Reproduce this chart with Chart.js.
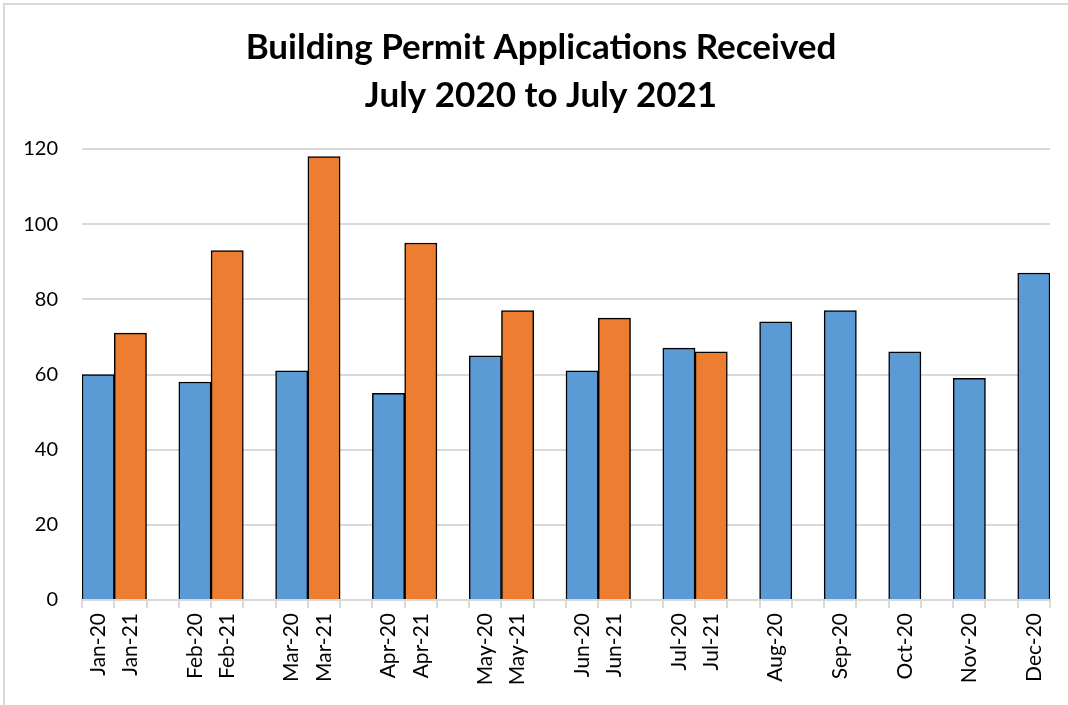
<!DOCTYPE html>
<html>
<head>
<meta charset="utf-8">
<script src="https://cdn.jsdelivr.net/npm/chart.js@4/dist/chart.umd.min.js"></script>
<style>
  html, body { margin: 0; padding: 0; background: #fff; }
  #wrap { position: relative; width: 1068px; height: 705px; }
</style>
</head>
<body>
<div id="wrap"><canvas id="permitChart" width="1068" height="705"></canvas></div>
<script>
const months = ['Jan', 'Feb', 'Mar', 'Apr', 'May', 'Jun', 'Jul', 'Aug', 'Sep', 'Oct', 'Nov', 'Dec'];
const values2020 = [60, 58, 61, 55, 65, 61, 67, 74, 77, 66, 59, 87];
const values2021 = [71, 93, 118, 95, 77, 75, 66]; // Jan to Jul only
const yTicks = [0, 20, 40, 60, 80, 100, 120];
const titleLines = ['Building Permit Applications Received', 'July 2020 to July 2021'];

const BLUE = '#5B9BD5';
const ORANGE = '#ED7D31';

// one slot per bar, with an empty slot between the month groups
const labels = [];
const data = [];
const colors = [];
months.forEach((m, i) => {
    labels.push(m + '-20'); data.push(values2020[i]); colors.push(BLUE);
    if (i < values2021.length) {
        labels.push(m + '-21'); data.push(values2021[i]); colors.push(ORANGE);
    }
    if (i < months.length - 1) {
        labels.push(''); data.push(null); colors.push(BLUE);
    }
});

const frameAndTitle = {
    id: 'frameAndTitle',
    beforeDraw(chart) {
        const c = chart.ctx;
        c.save();
        c.fillStyle = '#fff';
        c.fillRect(0, 0, chart.width, chart.height);
        c.strokeStyle = '#d9d9d9';
        c.lineWidth = 2;
        c.beginPath();
        c.moveTo(4, chart.height);
        c.lineTo(4, 4);
        c.lineTo(chart.width, 4);
        c.stroke();
        c.restore();
    },
    afterDraw(chart) {
        const c = chart.ctx;
        c.save();
        c.fillStyle = '#000';
        c.font = 'bold 35px Lato';
        c.textAlign = 'center';
        c.textBaseline = 'middle';
        c.fillText(titleLines[0], 541, 48);
        c.fillText(titleLines[1], 541, 96);
        c.restore();
    }
};

new Chart(document.getElementById('permitChart'), {
    type: 'bar',
    data: {
        labels: labels,
        datasets: [{
            label: 'Applications',
            data: data,
            backgroundColor: colors,
            borderColor: '#000',
            borderWidth: 1.5,
            barPercentage: 1,
            categoryPercentage: 1
        }]
    },
    options: {
        responsive: false,
        animation: false,
        layout: { padding: { top: 149, right: 18, bottom: 0, left: 0 } },
        plugins: {
            legend: { display: false },
            title: { display: false },
            tooltip: { enabled: false }
        },
        scales: {
            x: {
                afterFit: s => { s.height = 105; },
                border: { color: '#d9d9d9', width: 2 },
                grid: {
                    offset: true,
                    drawOnChartArea: false,
                    color: '#d9d9d9',
                    lineWidth: 2,
                    tickLength: 8
                },
                ticks: {
                    autoSkip: false,
                    minRotation: 90,
                    maxRotation: 90,
                    padding: 5,
                    color: '#000',
                    font: { family: 'Lato', size: 21 }
                }
            },
            y: {
                min: 0,
                max: 120,
                afterFit: s => { s.width = 82; },
                afterBuildTicks: s => { s.ticks = yTicks.map(v => ({ value: v })); },
                border: { display: false },
                grid: { color: '#d9d9d9', lineWidth: 2, drawTicks: false },
                ticks: {
                    padding: 24,
                    color: '#000',
                    font: { family: 'Lato', size: 20 }
                }
            }
        }
    },
    plugins: [frameAndTitle]
});
</script>
</body>
</html>
